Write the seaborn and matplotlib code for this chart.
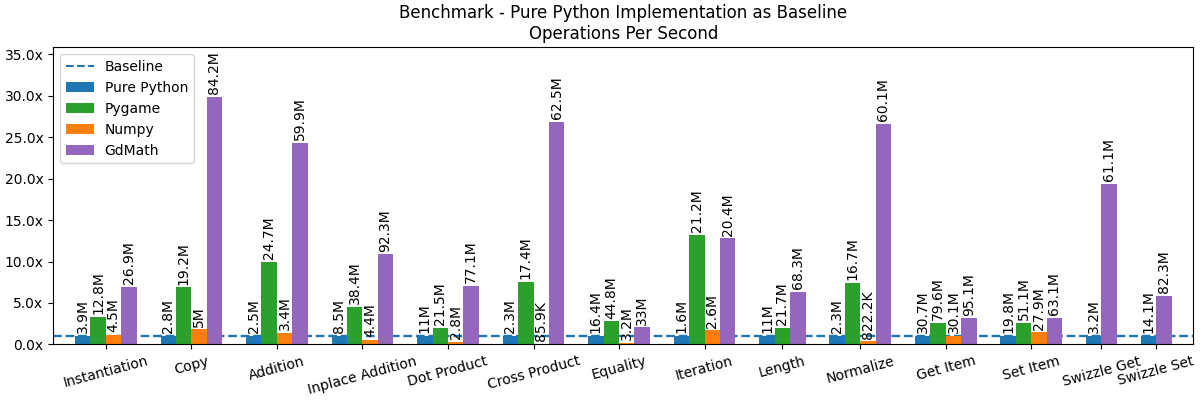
"""
Benchmark chart: operations per second, pure python implementation as baseline
"""

import pandas as pd
import seaborn as sns
import matplotlib.pyplot as plt
from matplotlib.lines import Line2D
from matplotlib.patches import Patch
from matplotlib.ticker import StrMethodFormatter

OPERATIONS = [
    "Instantiation", "Copy", "Addition", "Inplace Addition", "Dot Product",
    "Cross Product", "Equality", "Iteration", "Length", "Normalize",
    "Get Item", "Set Item", "Swizzle Get", "Swizzle Set",
]
IMPLEMENTATIONS = ["Pure Python", "Pygame", "Numpy", "GdMath"]
COLORS = ["#1f77b4", "#2ca02c", "#ff7f0e", "#9467bd"]

BASELINE = 1.0

# speed-up relative to pure python (None = not benchmarked)
pure_python_ratio = [1.0, 1.0, 1.0, 1.0, 1.0, 1.0, 1.0, 1.0, 1.0, 1.0, 1.0, 1.0, 1.0, 1.0]
pygame_ratio = [3.35, 6.88, 9.95, 4.57, 2.02, 7.52, 2.77, 13.25, 2.03, 7.45, 2.64, 2.63, None, None]
numpy_ratio = [1.17, 1.82, 1.40, 0.58, 0.30, 0.04, 0.22, 1.68, None, 0.36, 1.02, 1.45, None, None]
gdmath_ratio = [6.98, 29.85, 24.3, 10.86, 7.03, 26.82, 2.05, 12.8, 6.3, 26.65, 3.13, 3.24, 19.4, 5.9]

# operations per second printed above each bar
pure_python_ops = ["3.9M", "2.8M", "2.5M", "8.5M", "11M", "2.3M", "16.4M", "1.6M", "11M", "2.3M", "30.7M", "19.8M", "3.2M", "14.1M"]
pygame_ops = ["12.8M", "19.2M", "24.7M", "38.4M", "21.5M", "17.4M", "44.8M", "21.2M", "21.7M", "16.7M", "79.6M", "51.1M", None, None]
numpy_ops = ["4.5M", "5M", "3.4M", "4.4M", "2.8M", "85.9K", "3.2M", "2.6M", None, "822.2K", "30.1M", "27.9M", None, None]
gdmath_ops = ["26.9M", "84.2M", "59.9M", "92.3M", "77.1M", "62.5M", "33M", "20.4M", "68.3M", "60.1M", "95.1M", "63.1M", "61.1M", "82.3M"]

GROUP_GAP = 1.55  # space between groups, in bar widths
SIDE_MARGIN = 1.41


def build_frame() -> pd.DataFrame:
    ratios = [pure_python_ratio, pygame_ratio, numpy_ratio, gdmath_ratio]
    labels = [pure_python_ops, pygame_ops, numpy_ops, gdmath_ops]
    rows = []
    pos = 0.0
    for i, op in enumerate(OPERATIONS):
        for impl, r, l in zip(IMPLEMENTATIONS, ratios, labels):
            if r[i] is None:
                continue
            rows.append({"Operation": op, "Implementation": impl, "pos": pos,
                         "Ratio": r[i], "Label": l[i]})
            pos += 1
        pos += GROUP_GAP
    return pd.DataFrame(rows)


def run() -> None:
    df = build_frame()

    fig, ax = plt.subplots(figsize=(12, 4), dpi=100)
    # baseline sits behind the bars
    ax.axhline(BASELINE, color="#1f77b4", linestyle="--", linewidth=1.7, zorder=0.5)
    sns.barplot(
        data=df, x="pos", y="Ratio", hue="Implementation",
        hue_order=IMPLEMENTATIONS, palette=COLORS, native_scale=True,
        width=1, dodge=False, saturation=1, errorbar=None, linewidth=0,
        legend=False, ax=ax,
    )

    for _, row in df.iterrows():
        ax.annotate(row["Label"], (row["pos"], row["Ratio"]), xytext=(0, 2),
                    textcoords="offset points", ha="center", va="bottom",
                    rotation=90, fontsize=10)

    centers = df.groupby("Operation", sort=False)["pos"].mean()
    ax.set_xticks(centers.values)
    ax.set_xticklabels(centers.index, rotation=15, ha="center")
    ax.set_xlim(df["pos"].min() - 0.5 - SIDE_MARGIN, df["pos"].max() + 0.5 + SIDE_MARGIN)
    ax.set_ylim(0, 35.85)
    ax.yaxis.set_major_formatter(StrMethodFormatter("{x:.1f}x"))
    ax.set_xlabel("")
    ax.set_ylabel("")
    ax.set_title("Benchmark - Pure Python Implementation as Baseline\nOperations Per Second")

    handles = [Line2D([], [], color="#1f77b4", linestyle="--", linewidth=1.5)]
    handles += [Patch(facecolor=c) for c in COLORS]
    ax.legend(handles, ["Baseline"] + IMPLEMENTATIONS, loc="upper left")

    fig.subplots_adjust(left=0.0444, right=0.9944, top=0.8817, bottom=0.139)
    fig.savefig("out.png", dpi=100)


if __name__ == "__main__":
    run()
